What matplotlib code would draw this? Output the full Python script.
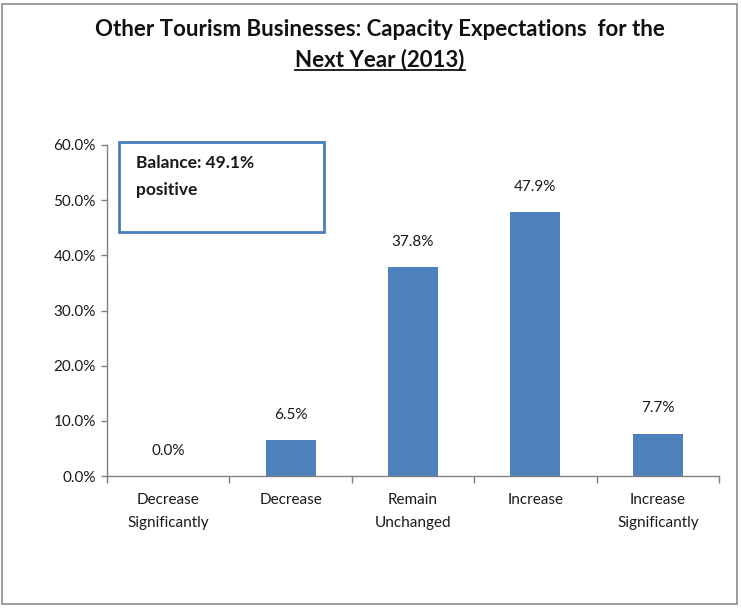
import matplotlib
matplotlib.use("Agg")
import matplotlib.pyplot as plt
from matplotlib.patches import Rectangle
from matplotlib.lines import Line2D

categories = ["Decrease\nSignificantly", "Decrease", "Remain\nUnchanged", "Increase", "Increase\nSignificantly"]
values = [0.0, 6.5, 37.8, 47.9, 7.7]
yticks = [0, 10, 20, 30, 40, 50, 60]
title_line1 = "Other Tourism Businesses: Capacity Expectations  for the"
title_line2 = "Next Year (2013)"
balance_text = "Balance: 49.1%\npositive"

plt.rcParams["font.family"] = ["Lato", "DejaVu Sans"]

W, H = 741, 608
fig = plt.figure(figsize=(W / 100, H / 100), dpi=100)
fig.patch.set_facecolor("white")

# outer chart frame
fig.add_artist(Rectangle((2 / W, 4 / H), 735 / W, 600 / H, transform=fig.transFigure,
                         fill=False, edgecolor="#8c8c8c", linewidth=1.2))

ax = fig.add_axes([107 / W, 1 - 476 / H, (719 - 107) / W, (476 - 145) / H])
x = range(len(categories))
bars = ax.bar(x, values, width=0.41, color="#4f81bd")
ax.set_xlim(-0.5, len(categories) - 0.5)
ax.set_ylim(0, 60)
ax.set_yticks(yticks)
ax.set_yticklabels([f"{v:.1f}%" for v in yticks], fontsize=11, color="#1a1a1a")
ax.set_xticks(list(x))
ax.set_xticklabels(categories, fontsize=11, color="#1a1a1a", linespacing=1.75)
ax.tick_params(axis="x", length=0, pad=12.5)
ax.tick_params(axis="y", length=4, width=1, color="#808080", pad=4)
# category separator ticks along the x axis
ax.set_xticks([i - 0.5 for i in range(len(categories) + 1)], minor=True)
ax.tick_params(axis="x", which="minor", length=5, width=1, color="#808080", direction="out")
for side in ("top", "right"):
    ax.spines[side].set_visible(False)
for side in ("left", "bottom"):
    ax.spines[side].set_color("#808080")
    ax.spines[side].set_linewidth(1)

for xi, v in zip(x, values):
    ax.annotate(f"{v:.1f}%", (xi, v), xytext=(0, 13), textcoords="offset points",
                ha="center", va="bottom", fontsize=11, color="#1a1a1a")

# balance note box
fig.add_artist(Rectangle((119 / W, 1 - 232 / H), (324 - 119) / W, (232 - 142) / H,
                         transform=fig.transFigure, facecolor="white",
                         edgecolor="#4a7ebb", linewidth=2))
fig.text(136 / W, 1 - 155 / H, balance_text, fontsize=12.5, fontweight="bold",
         color="#1a1a1a", va="top", ha="left", linespacing=1.85)

# title
fig.text(380 / W, 1 - 30 / H, title_line1, fontsize=16, fontweight="bold",
         ha="center", va="center", color="#111111")
t2 = fig.text(380 / W, 1 - 60 / H, title_line2, fontsize=16, fontweight="bold",
              ha="center", va="center", color="#111111")

fig.canvas.draw()
bb = t2.get_window_extent()
inv = fig.transFigure.inverted()
(x0, y0), (x1, y1) = inv.transform([(bb.x0, bb.y0), (bb.x1, bb.y0)])
fig.add_artist(Line2D([x0, x1], [y0 + 1 / H, y0 + 1 / H], transform=fig.transFigure,
                      color="#111111", linewidth=1.3))

fig.savefig("out.png", dpi=100)
